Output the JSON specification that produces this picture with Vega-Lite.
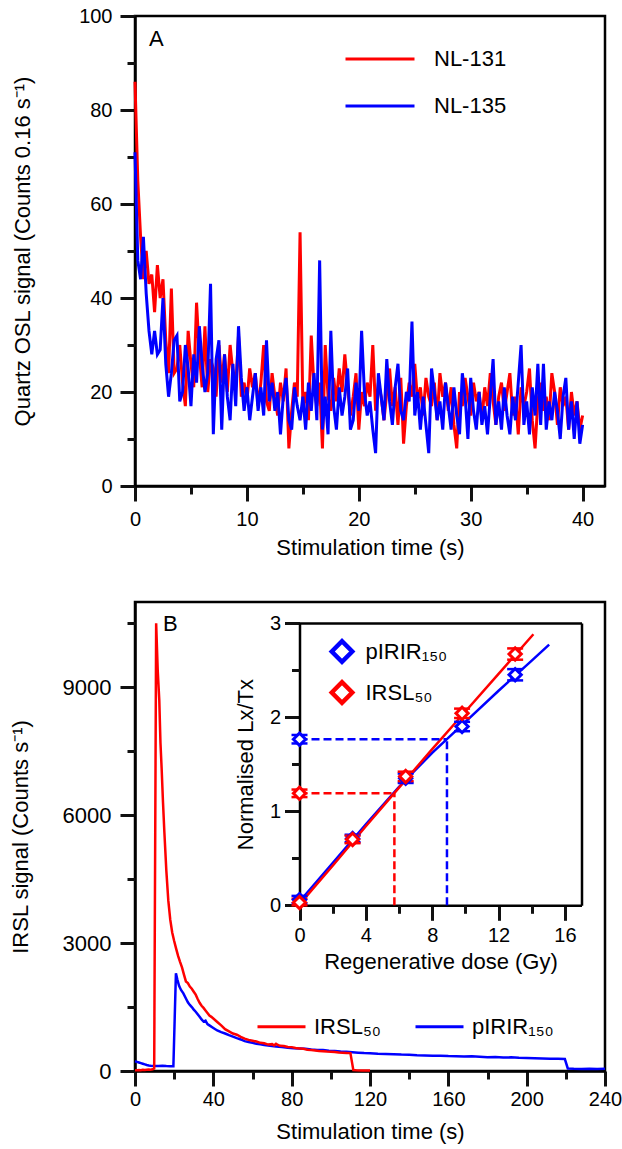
{
  "$schema": "https://vega.github.io/schema/vega-lite/v6.json",
  "padding": {"left": 7, "top": 4, "right": 0, "bottom": 0},
  "background": "white",
  "spacing": 40,
  "config": {
    "font": "Liberation Sans",
    "view": {"stroke": "#000000", "strokeWidth": 2.5},
    "axis": {
      "grid": false, "domainColor": "#000000", "domainWidth": 2.5,
      "ticks": true, "tickColor": "#111111", "tickWidth": 3, "tickSize": 15, "tickOpacity": 1,
      "labelFont": "Liberation Sans", "labelFontSize": 20, "labelColor": "#000000",
      "titleFont": "Liberation Sans", "titleFontSize": 22, "titleFontWeight": "normal", "titleColor": "#000000",
      "labelFlush": false, "labelOverlap": false, "labelPadding": 8
    },
    "legend": {"labelFont": "Liberation Sans", "labelFontSize": 22, "labelColor": "#000000", "labelLimit": 400, "padding": 0}
  },
  "datasets": {
    "osl": [
      {"t":0,"NL-131":86,"NL-135":71},{"t":0.25,"NL-131":65,"NL-135":48},{"t":0.5,"NL-131":53,"NL-135":44},{"t":0.75,"NL-131":44,"NL-135":53},
      {"t":1,"NL-131":50,"NL-135":41},{"t":1.25,"NL-131":43,"NL-135":33},{"t":1.5,"NL-131":45,"NL-135":28},{"t":1.75,"NL-131":37,"NL-135":33},
      {"t":2,"NL-131":47,"NL-135":28},{"t":2.25,"NL-131":40,"NL-135":29},{"t":2.5,"NL-131":44,"NL-135":40},{"t":2.75,"NL-131":31,"NL-135":26},
      {"t":3,"NL-131":24,"NL-135":19},{"t":3.25,"NL-131":42,"NL-135":24},{"t":3.5,"NL-131":24,"NL-135":31},{"t":3.75,"NL-131":25,"NL-135":32},
      {"t":4,"NL-131":30,"NL-135":18},{"t":4.25,"NL-131":22,"NL-135":20},{"t":4.5,"NL-131":17,"NL-135":30},{"t":4.75,"NL-131":33,"NL-135":25},
      {"t":5,"NL-131":26,"NL-135":17},{"t":5.25,"NL-131":21,"NL-135":28},{"t":5.5,"NL-131":39,"NL-135":22},{"t":5.75,"NL-131":28,"NL-135":34},
      {"t":6,"NL-131":21,"NL-135":26},{"t":6.25,"NL-131":34,"NL-135":20},{"t":6.5,"NL-131":20,"NL-135":24},{"t":6.75,"NL-131":27,"NL-135":43},
      {"t":7,"NL-131":25,"NL-135":11},{"t":7.25,"NL-131":19,"NL-135":27},{"t":7.5,"NL-131":30,"NL-135":31},{"t":7.75,"NL-131":22,"NL-135":12},
      {"t":8,"NL-131":28,"NL-135":28},{"t":8.25,"NL-131":20,"NL-135":19},{"t":8.5,"NL-131":30,"NL-135":14},{"t":8.75,"NL-131":24,"NL-135":26},
      {"t":9,"NL-131":21,"NL-135":17},{"t":9.25,"NL-131":32,"NL-135":34},{"t":9.5,"NL-131":19,"NL-135":23},{"t":9.75,"NL-131":22,"NL-135":16},
      {"t":10,"NL-131":18,"NL-135":21},{"t":10.25,"NL-131":25,"NL-135":14},{"t":10.5,"NL-131":21,"NL-135":19},{"t":10.75,"NL-131":24,"NL-135":24},
      {"t":11,"NL-131":17,"NL-135":16},{"t":11.25,"NL-131":22,"NL-135":21},{"t":11.5,"NL-131":30,"NL-135":15},{"t":11.75,"NL-131":18,"NL-135":31},
      {"t":12,"NL-131":16,"NL-135":18},{"t":12.25,"NL-131":24,"NL-135":22},{"t":12.5,"NL-131":19,"NL-135":16},{"t":12.75,"NL-131":15,"NL-135":20},
      {"t":13,"NL-131":22,"NL-135":11},{"t":13.25,"NL-131":18,"NL-135":19},{"t":13.5,"NL-131":25,"NL-135":23},{"t":13.75,"NL-131":8,"NL-135":14},
      {"t":14,"NL-131":16,"NL-135":12},{"t":14.25,"NL-131":22,"NL-135":21},{"t":14.5,"NL-131":19,"NL-135":17},{"t":14.75,"NL-131":54,"NL-135":14},
      {"t":15,"NL-131":17,"NL-135":19},{"t":15.25,"NL-131":20,"NL-135":12},{"t":15.5,"NL-131":14,"NL-135":22},{"t":15.75,"NL-131":32,"NL-135":16},
      {"t":16,"NL-131":21,"NL-135":24},{"t":16.25,"NL-131":17,"NL-135":14},{"t":16.5,"NL-131":22,"NL-135":48},{"t":16.75,"NL-131":8,"NL-135":12},
      {"t":17,"NL-131":30,"NL-135":19},{"t":17.25,"NL-131":19,"NL-135":11},{"t":17.5,"NL-131":16,"NL-135":33},{"t":17.75,"NL-131":23,"NL-135":17},
      {"t":18,"NL-131":18,"NL-135":12},{"t":18.25,"NL-131":25,"NL-135":21},{"t":18.5,"NL-131":20,"NL-135":15},{"t":18.75,"NL-131":28,"NL-135":19},
      {"t":19,"NL-131":21,"NL-135":25},{"t":19.25,"NL-131":15,"NL-135":12},{"t":19.5,"NL-131":19,"NL-135":14},{"t":19.75,"NL-131":24,"NL-135":22},
      {"t":20,"NL-131":12,"NL-135":16},{"t":20.25,"NL-131":20,"NL-135":33},{"t":20.5,"NL-131":17,"NL-135":20},{"t":20.75,"NL-131":22,"NL-135":15},
      {"t":21,"NL-131":19,"NL-135":18},{"t":21.25,"NL-131":30,"NL-135":12},{"t":21.5,"NL-131":16,"NL-135":7},{"t":21.75,"NL-131":22,"NL-135":24},
      {"t":22,"NL-131":19,"NL-135":19},{"t":22.25,"NL-131":14,"NL-135":14},{"t":22.5,"NL-131":20,"NL-135":27},{"t":22.75,"NL-131":25,"NL-135":18},
      {"t":23,"NL-131":17,"NL-135":13},{"t":23.25,"NL-131":21,"NL-135":21},{"t":23.5,"NL-131":13,"NL-135":26},{"t":23.75,"NL-131":23,"NL-135":16},
      {"t":24,"NL-131":9,"NL-135":14},{"t":24.25,"NL-131":17,"NL-135":20},{"t":24.5,"NL-131":22,"NL-135":18},{"t":24.75,"NL-131":19,"NL-135":35},
      {"t":25,"NL-131":26,"NL-135":15},{"t":25.25,"NL-131":18,"NL-135":20},{"t":25.5,"NL-131":21,"NL-135":12},{"t":25.75,"NL-131":15,"NL-135":19},
      {"t":26,"NL-131":23,"NL-135":13},{"t":26.25,"NL-131":19,"NL-135":7},{"t":26.5,"NL-131":17,"NL-135":25},{"t":26.75,"NL-131":22,"NL-135":20},
      {"t":27,"NL-131":14,"NL-135":14},{"t":27.25,"NL-131":24,"NL-135":18},{"t":27.5,"NL-131":19,"NL-135":12},{"t":27.75,"NL-131":22,"NL-135":22},
      {"t":28,"NL-131":16,"NL-135":17},{"t":28.25,"NL-131":21,"NL-135":12},{"t":28.5,"NL-131":13,"NL-135":21},{"t":28.75,"NL-131":8,"NL-135":15},
      {"t":29,"NL-131":20,"NL-135":11},{"t":29.25,"NL-131":17,"NL-135":24},{"t":29.5,"NL-131":23,"NL-135":19},{"t":29.75,"NL-131":19,"NL-135":10},
      {"t":30,"NL-131":15,"NL-135":23},{"t":30.25,"NL-131":22,"NL-135":16},{"t":30.5,"NL-131":18,"NL-135":12},{"t":30.75,"NL-131":20,"NL-135":20},
      {"t":31,"NL-131":14,"NL-135":13},{"t":31.25,"NL-131":21,"NL-135":17},{"t":31.5,"NL-131":17,"NL-135":11},{"t":31.75,"NL-131":24,"NL-135":19},
      {"t":32,"NL-131":18,"NL-135":27},{"t":32.25,"NL-131":13,"NL-135":13},{"t":32.5,"NL-131":19,"NL-135":18},{"t":32.75,"NL-131":22,"NL-135":12},
      {"t":33,"NL-131":16,"NL-135":21},{"t":33.25,"NL-131":20,"NL-135":15},{"t":33.5,"NL-131":24,"NL-135":11},{"t":33.75,"NL-131":15,"NL-135":19},
      {"t":34,"NL-131":19,"NL-135":14},{"t":34.25,"NL-131":11,"NL-135":22},{"t":34.5,"NL-131":21,"NL-135":30},{"t":34.75,"NL-131":17,"NL-135":13},
      {"t":35,"NL-131":20,"NL-135":18},{"t":35.25,"NL-131":25,"NL-135":11},{"t":35.5,"NL-131":14,"NL-135":21},{"t":35.75,"NL-131":8,"NL-135":15},
      {"t":36,"NL-131":18,"NL-135":26},{"t":36.25,"NL-131":22,"NL-135":13},{"t":36.5,"NL-131":16,"NL-135":26},{"t":36.75,"NL-131":19,"NL-135":12},
      {"t":37,"NL-131":14,"NL-135":18},{"t":37.25,"NL-131":24,"NL-135":14},{"t":37.5,"NL-131":20,"NL-135":20},{"t":37.75,"NL-131":13,"NL-135":16},
      {"t":38,"NL-131":21,"NL-135":10},{"t":38.25,"NL-131":17,"NL-135":19},{"t":38.5,"NL-131":19,"NL-135":23},{"t":38.75,"NL-131":12,"NL-135":12},
      {"t":39,"NL-131":20,"NL-135":18},{"t":39.25,"NL-131":15,"NL-135":10},{"t":39.5,"NL-131":18,"NL-135":18},{"t":39.75,"NL-131":12,"NL-135":9},
      {"t":40,"NL-131":15,"NL-135":13}
    ],
    "irsl": [
      {"s":"pIRIR₁₅₀","t":0,"c":230},{"s":"pIRIR₁₅₀","t":1,"c":215},{"s":"pIRIR₁₅₀","t":2,"c":200},{"s":"pIRIR₁₅₀","t":3,"c":185},
      {"s":"pIRIR₁₅₀","t":4,"c":170},{"s":"pIRIR₁₅₀","t":5,"c":155},{"s":"pIRIR₁₅₀","t":6,"c":140},{"s":"pIRIR₁₅₀","t":7,"c":130},
      {"s":"pIRIR₁₅₀","t":8,"c":125},{"s":"pIRIR₁₅₀","t":10,"c":120},{"s":"pIRIR₁₅₀","t":12,"c":118},{"s":"pIRIR₁₅₀","t":14,"c":122},
      {"s":"pIRIR₁₅₀","t":16,"c":115},{"s":"pIRIR₁₅₀","t":18,"c":112},{"s":"pIRIR₁₅₀","t":19.6,"c":110},{"s":"pIRIR₁₅₀","t":20.9,"c":2290},
      {"s":"pIRIR₁₅₀","t":21.6,"c":2150},{"s":"pIRIR₁₅₀","t":22.5,"c":2000},{"s":"pIRIR₁₅₀","t":23.5,"c":1900},{"s":"pIRIR₁₅₀","t":24.7,"c":1820},
      {"s":"pIRIR₁₅₀","t":26,"c":1700},{"s":"pIRIR₁₅₀","t":27,"c":1610},{"s":"pIRIR₁₅₀","t":28,"c":1550},{"s":"pIRIR₁₅₀","t":29,"c":1500},
      {"s":"pIRIR₁₅₀","t":30,"c":1440},{"s":"pIRIR₁₅₀","t":31,"c":1390},{"s":"pIRIR₁₅₀","t":32,"c":1330},{"s":"pIRIR₁₅₀","t":33,"c":1270},
      {"s":"pIRIR₁₅₀","t":34,"c":1210},{"s":"pIRIR₁₅₀","t":35,"c":1160},{"s":"pIRIR₁₅₀","t":36,"c":1180},{"s":"pIRIR₁₅₀","t":37,"c":1100},
      {"s":"pIRIR₁₅₀","t":38,"c":1070},{"s":"pIRIR₁₅₀","t":40,"c":1010},{"s":"pIRIR₁₅₀","t":42,"c":950},{"s":"pIRIR₁₅₀","t":44,"c":910},
      {"s":"pIRIR₁₅₀","t":46,"c":880},{"s":"pIRIR₁₅₀","t":48,"c":840},{"s":"pIRIR₁₅₀","t":50,"c":805},{"s":"pIRIR₁₅₀","t":52,"c":770},
      {"s":"pIRIR₁₅₀","t":54,"c":740},{"s":"pIRIR₁₅₀","t":56,"c":700},{"s":"pIRIR₁₅₀","t":58,"c":680},{"s":"pIRIR₁₅₀","t":60,"c":660},
      {"s":"pIRIR₁₅₀","t":62,"c":640},{"s":"pIRIR₁₅₀","t":64,"c":625},{"s":"pIRIR₁₅₀","t":66,"c":610},{"s":"pIRIR₁₅₀","t":68,"c":600},
      {"s":"pIRIR₁₅₀","t":70,"c":585},{"s":"pIRIR₁₅₀","t":72,"c":575},{"s":"pIRIR₁₅₀","t":75,"c":560},{"s":"pIRIR₁₅₀","t":78,"c":545},
      {"s":"pIRIR₁₅₀","t":81,"c":535},{"s":"pIRIR₁₅₀","t":84,"c":530},{"s":"pIRIR₁₅₀","t":87,"c":520},{"s":"pIRIR₁₅₀","t":90,"c":505},
      {"s":"pIRIR₁₅₀","t":93,"c":495},{"s":"pIRIR₁₅₀","t":96,"c":490},{"s":"pIRIR₁₅₀","t":99,"c":475},{"s":"pIRIR₁₅₀","t":102,"c":470},
      {"s":"pIRIR₁₅₀","t":105,"c":455},{"s":"pIRIR₁₅₀","t":108,"c":450},{"s":"pIRIR₁₅₀","t":111,"c":440},{"s":"pIRIR₁₅₀","t":114,"c":430},
      {"s":"pIRIR₁₅₀","t":117,"c":420},{"s":"pIRIR₁₅₀","t":120,"c":415},{"s":"pIRIR₁₅₀","t":124,"c":405},{"s":"pIRIR₁₅₀","t":128,"c":400},
      {"s":"pIRIR₁₅₀","t":132,"c":395},{"s":"pIRIR₁₅₀","t":136,"c":385},{"s":"pIRIR₁₅₀","t":140,"c":380},{"s":"pIRIR₁₅₀","t":144,"c":370},
      {"s":"pIRIR₁₅₀","t":148,"c":365},{"s":"pIRIR₁₅₀","t":152,"c":355},{"s":"pIRIR₁₅₀","t":156,"c":360},{"s":"pIRIR₁₅₀","t":160,"c":350},
      {"s":"pIRIR₁₅₀","t":164,"c":345},{"s":"pIRIR₁₅₀","t":168,"c":340},{"s":"pIRIR₁₅₀","t":172,"c":345},{"s":"pIRIR₁₅₀","t":176,"c":335},
      {"s":"pIRIR₁₅₀","t":180,"c":325},{"s":"pIRIR₁₅₀","t":184,"c":330},{"s":"pIRIR₁₅₀","t":188,"c":315},{"s":"pIRIR₁₅₀","t":192,"c":320},
      {"s":"pIRIR₁₅₀","t":196,"c":310},{"s":"pIRIR₁₅₀","t":200,"c":305},{"s":"pIRIR₁₅₀","t":204,"c":300},{"s":"pIRIR₁₅₀","t":208,"c":295},
      {"s":"pIRIR₁₅₀","t":212,"c":290},{"s":"pIRIR₁₅₀","t":216,"c":285},{"s":"pIRIR₁₅₀","t":219.5,"c":280},{"s":"pIRIR₁₅₀","t":221,"c":60},
      {"s":"pIRIR₁₅₀","t":224,"c":50},{"s":"pIRIR₁₅₀","t":228,"c":45},{"s":"pIRIR₁₅₀","t":232,"c":50},{"s":"pIRIR₁₅₀","t":236,"c":45},
      {"s":"pIRIR₁₅₀","t":240,"c":50},
      {"s":"IRSL₅₀","t":0,"c":20},{"s":"IRSL₅₀","t":1,"c":15},{"s":"IRSL₅₀","t":2,"c":25},{"s":"IRSL₅₀","t":3,"c":20},
      {"s":"IRSL₅₀","t":4,"c":30},{"s":"IRSL₅₀","t":5,"c":25},{"s":"IRSL₅₀","t":6,"c":30},{"s":"IRSL₅₀","t":7,"c":35},
      {"s":"IRSL₅₀","t":8,"c":30},{"s":"IRSL₅₀","t":9,"c":40},{"s":"IRSL₅₀","t":9.8,"c":60},{"s":"IRSL₅₀","t":10.8,"c":10500},
      {"s":"IRSL₅₀","t":11.6,"c":9400},{"s":"IRSL₅₀","t":12.4,"c":8700},{"s":"IRSL₅₀","t":13,"c":7700},{"s":"IRSL₅₀","t":13.6,"c":7100},
      {"s":"IRSL₅₀","t":14.3,"c":6300},{"s":"IRSL₅₀","t":15,"c":5600},{"s":"IRSL₅₀","t":16,"c":4700},{"s":"IRSL₅₀","t":17,"c":4000},
      {"s":"IRSL₅₀","t":18,"c":3550},{"s":"IRSL₅₀","t":19,"c":3250},{"s":"IRSL₅₀","t":20,"c":3050},{"s":"IRSL₅₀","t":21,"c":2870},
      {"s":"IRSL₅₀","t":22,"c":2700},{"s":"IRSL₅₀","t":23,"c":2560},{"s":"IRSL₅₀","t":24,"c":2430},{"s":"IRSL₅₀","t":25,"c":2260},
      {"s":"IRSL₅₀","t":26,"c":2100},{"s":"IRSL₅₀","t":27,"c":2060},{"s":"IRSL₅₀","t":28,"c":1980},{"s":"IRSL₅₀","t":29,"c":1930},
      {"s":"IRSL₅₀","t":30,"c":1860},{"s":"IRSL₅₀","t":31,"c":1790},{"s":"IRSL₅₀","t":32,"c":1690},{"s":"IRSL₅₀","t":33,"c":1600},
      {"s":"IRSL₅₀","t":34,"c":1530},{"s":"IRSL₅₀","t":35,"c":1480},{"s":"IRSL₅₀","t":36,"c":1420},{"s":"IRSL₅₀","t":37,"c":1360},
      {"s":"IRSL₅₀","t":38,"c":1300},{"s":"IRSL₅₀","t":39,"c":1270},{"s":"IRSL₅₀","t":40,"c":1230},{"s":"IRSL₅₀","t":42,"c":1150},
      {"s":"IRSL₅₀","t":44,"c":1070},{"s":"IRSL₅₀","t":46,"c":980},{"s":"IRSL₅₀","t":48,"c":930},{"s":"IRSL₅₀","t":50,"c":880},
      {"s":"IRSL₅₀","t":52,"c":850},{"s":"IRSL₅₀","t":54,"c":800},{"s":"IRSL₅₀","t":56,"c":760},{"s":"IRSL₅₀","t":58,"c":730},
      {"s":"IRSL₅₀","t":60,"c":710},{"s":"IRSL₅₀","t":62,"c":690},{"s":"IRSL₅₀","t":64,"c":660},{"s":"IRSL₅₀","t":66,"c":650},
      {"s":"IRSL₅₀","t":68,"c":620},{"s":"IRSL₅₀","t":70,"c":630},{"s":"IRSL₅₀","t":71,"c":600},{"s":"IRSL₅₀","t":72,"c":640},
      {"s":"IRSL₅₀","t":73,"c":610},{"s":"IRSL₅₀","t":74,"c":590},{"s":"IRSL₅₀","t":76,"c":585},{"s":"IRSL₅₀","t":78,"c":565},
      {"s":"IRSL₅₀","t":80,"c":560},{"s":"IRSL₅₀","t":82,"c":540},{"s":"IRSL₅₀","t":84,"c":530},{"s":"IRSL₅₀","t":86,"c":520},
      {"s":"IRSL₅₀","t":88,"c":500},{"s":"IRSL₅₀","t":90,"c":490},{"s":"IRSL₅₀","t":92,"c":480},{"s":"IRSL₅₀","t":94,"c":470},
      {"s":"IRSL₅₀","t":96,"c":465},{"s":"IRSL₅₀","t":98,"c":455},{"s":"IRSL₅₀","t":100,"c":450},{"s":"IRSL₅₀","t":102,"c":445},
      {"s":"IRSL₅₀","t":104,"c":435},{"s":"IRSL₅₀","t":106,"c":430},{"s":"IRSL₅₀","t":108,"c":425},{"s":"IRSL₅₀","t":110,"c":420},
      {"s":"IRSL₅₀","t":111.5,"c":20},{"s":"IRSL₅₀","t":113,"c":15},{"s":"IRSL₅₀","t":116,"c":10},{"s":"IRSL₅₀","t":120,"c":10}
    ],
    "fit": [
      {"s":"pIRIR₁₅₀","dose":0,"val":0.04},{"s":"pIRIR₁₅₀","dose":2,"val":0.45},{"s":"pIRIR₁₅₀","dose":4,"val":0.86},
      {"s":"pIRIR₁₅₀","dose":6,"val":1.26},{"s":"pIRIR₁₅₀","dose":8,"val":1.62},{"s":"pIRIR₁₅₀","dose":10,"val":1.95},
      {"s":"pIRIR₁₅₀","dose":12,"val":2.28},{"s":"pIRIR₁₅₀","dose":14,"val":2.6},{"s":"pIRIR₁₅₀","dose":15.05,"val":2.77},
      {"s":"IRSL₅₀","dose":0,"val":0.01},{"s":"IRSL₅₀","dose":2,"val":0.42},{"s":"IRSL₅₀","dose":4,"val":0.84},
      {"s":"IRSL₅₀","dose":6,"val":1.25},{"s":"IRSL₅₀","dose":8,"val":1.66},{"s":"IRSL₅₀","dose":10,"val":2.06},
      {"s":"IRSL₅₀","dose":12,"val":2.46},{"s":"IRSL₅₀","dose":14.1,"val":2.88}
    ],
    "dash": [
      {"s":"pIRIR₁₅₀","x1":0,"x2":8.89,"y1":1.765,"y2":1.765},
      {"s":"pIRIR₁₅₀","x1":8.89,"x2":8.89,"y1":0,"y2":1.765},
      {"s":"IRSL₅₀","x1":0,"x2":5.72,"y1":1.19,"y2":1.19},
      {"s":"IRSL₅₀","x1":5.72,"x2":5.72,"y1":0,"y2":1.19}
    ],
    "pts": [
      {"s":"pIRIR₁₅₀","dose":0,"val":0.06,"lo":0.02,"hi":0.1},
      {"s":"pIRIR₁₅₀","dose":3.2,"val":0.71,"lo":0.67,"hi":0.75},
      {"s":"pIRIR₁₅₀","dose":6.4,"val":1.35,"lo":1.3,"hi":1.4},
      {"s":"pIRIR₁₅₀","dose":9.8,"val":1.9,"lo":1.85,"hi":1.95},
      {"s":"pIRIR₁₅₀","dose":13,"val":2.45,"lo":2.39,"hi":2.51},
      {"s":"pIRIR₁₅₀","dose":0,"val":1.765,"lo":1.72,"hi":1.81},
      {"s":"IRSL₅₀","dose":0,"val":0.03,"lo":0,"hi":0.07},
      {"s":"IRSL₅₀","dose":3.2,"val":0.7,"lo":0.66,"hi":0.74},
      {"s":"IRSL₅₀","dose":6.4,"val":1.37,"lo":1.32,"hi":1.42},
      {"s":"IRSL₅₀","dose":9.8,"val":2.04,"lo":1.99,"hi":2.09},
      {"s":"IRSL₅₀","dose":13,"val":2.67,"lo":2.61,"hi":2.73},
      {"s":"IRSL₅₀","dose":0,"val":1.19,"lo":1.15,"hi":1.23}
    ]
  },
  "vconcat": [
    {
      "width": 470,
      "height": 470,
      "layer": [
        {
          "data": {"name": "osl"},
          "transform": [{"fold": ["NL-131", "NL-135"], "as": ["sample", "v"]}],
          "mark": {"type": "line", "strokeWidth": 3},
          "encoding": {
            "x": {"field": "t", "type": "quantitative", "scale": {"domain": [0, 42], "nice": false},
              "axis": {"orient": "bottom", "values": [0, 10, 20, 30, 40], "title": "Stimulation time (s)", "labelPadding": 8, "titlePadding": 8,
                "ticks": true, "tickSize": 15, "tickColor": "#111111", "tickWidth": 3, "domainColor": "#000000", "domainWidth": 2.5}},
            "y": {"field": "v", "type": "quantitative", "scale": {"domain": [0, 100], "nice": false},
              "axis": {"orient": "left", "values": [0, 20, 40, 60, 80, 100], "title": "Quartz OSL signal (Counts 0.16 s⁻¹)", "titlePadding": 44,
                "ticks": true, "tickSize": 15, "tickColor": "#111111", "tickWidth": 3, "domainColor": "#000000", "domainWidth": 2.5}},
            "color": {"field": "sample", "type": "nominal",
              "scale": {"domain": ["NL-131", "NL-135"], "range": ["#ff0000", "#0000ff"]},
              "legend": {"orient": "none", "legendX": 209, "legendY": 7, "direction": "vertical", "title": null,
                "symbolType": "stroke", "symbolSize": 4761, "symbolStrokeWidth": 3, "labelOffset": 18, "rowPadding": -28}}
          }
        },
        {
          "data": {"name": "osl"},
          "transform": [{"fold": ["NL-131", "NL-135"], "as": ["sample", "v"]}],
          "mark": {"type": "point", "opacity": 0},
          "encoding": {
            "x": {"field": "t", "type": "quantitative", "scale": {"domain": [0, 42], "nice": false},
              "axis": {"orient": "bottom", "values": [5, 15, 25, 35], "labels": false, "domain": false, "title": null,
                "ticks": true, "tickSize": 8, "tickColor": "#111111", "tickWidth": 3}},
            "y": {"field": "v", "type": "quantitative", "scale": {"domain": [0, 100], "nice": false},
              "axis": {"orient": "left", "values": [10, 30, 50, 70, 90], "labels": false, "domain": false, "title": null,
                "ticks": true, "tickSize": 8, "tickColor": "#111111", "tickWidth": 3}}
          }
        },
        {
          "data": {"values": [{}]},
          "mark": {"type": "text", "fontSize": 22, "align": "left", "baseline": "alphabetic", "font": "Liberation Sans", "color": "#000000"},
          "encoding": {
            "x": {"datum": 1.25, "type": "quantitative", "axis": null},
            "y": {"datum": 93.6, "type": "quantitative", "axis": null},
            "text": {"value": "A"}
          }
        }
      ],
      "resolve": {"axis": {"x": "independent", "y": "independent"}}
    },
    {
      "width": 470,
      "height": 469,
      "layer": [
        {
          "data": {"name": "irsl"},
          "mark": {"type": "line", "strokeWidth": 2.5},
          "encoding": {
            "x": {"field": "t", "type": "quantitative", "scale": {"domain": [0, 240], "nice": false},
              "axis": {"orient": "bottom", "values": [0, 40, 80, 120, 160, 200, 240], "title": "Stimulation time (s)", "labelPadding": 3, "titlePadding": 12,
                "ticks": true, "tickSize": 15, "tickColor": "#111111", "tickWidth": 3, "domainColor": "#000000", "domainWidth": 2.5}},
            "y": {"field": "c", "type": "quantitative", "scale": {"domain": [0, 11000], "nice": false},
              "axis": {"orient": "left", "values": [0, 3000, 6000, 9000], "format": "d", "title": "IRSL signal (Counts s⁻¹)", "labelFontSize": 22, "labelPadding": 9, "titlePadding": 30,
                "ticks": true, "tickSize": 15, "tickColor": "#111111", "tickWidth": 3, "domainColor": "#000000", "domainWidth": 2.5}},
            "color": {"field": "s", "type": "nominal",
              "scale": {"domain": ["IRSL₅₀", "pIRIR₁₅₀"], "range": ["#ff0000", "#0000ff"]},
              "legend": {"orient": "none", "legendX": 121, "legendY": 399, "direction": "horizontal", "title": null,
                "symbolType": "stroke", "symbolSize": 2304, "symbolStrokeWidth": 3, "labelOffset": 7, "columnPadding": 28}}
          }
        },
        {
          "data": {"name": "irsl"},
          "mark": {"type": "point", "opacity": 0},
          "encoding": {
            "x": {"field": "t", "type": "quantitative", "scale": {"domain": [0, 240], "nice": false},
              "axis": {"orient": "bottom", "values": [20, 60, 100, 140, 180, 220], "labels": false, "domain": false, "title": null,
                "ticks": true, "tickSize": 8, "tickColor": "#111111", "tickWidth": 3}},
            "y": {"field": "c", "type": "quantitative", "scale": {"domain": [0, 11000], "nice": false},
              "axis": {"orient": "left", "values": [1500, 4500, 7500, 10500], "labels": false, "domain": false, "title": null,
                "ticks": true, "tickSize": 8, "tickColor": "#111111", "tickWidth": 3}}
          }
        },
        {
          "data": {"values": [{}]},
          "mark": {"type": "text", "fontSize": 22, "align": "left", "baseline": "alphabetic", "font": "Liberation Sans", "color": "#000000"},
          "encoding": {
            "x": {"datum": 14.3, "type": "quantitative", "scale": {"domain": [0, 240], "nice": false}, "axis": null},
            "y": {"datum": 10313, "type": "quantitative", "scale": {"domain": [0, 11000], "nice": false}, "axis": null},
            "text": {"value": "B"}
          }
        },
        {
          "data": {"name": "fit"},
          "mark": {"type": "line", "strokeWidth": 2.5},
          "encoding": {
            "x": {"field": "dose", "type": "quantitative", "scale": {"domain": [0, 17], "range": [164.5, 446.5], "nice": false},
              "axis": {"orient": "bottom", "offset": -165.7, "values": [0, 4, 8, 12, 16], "title": "Regenerative dose (Gy)", "labelPadding": 5, "titlePadding": 6,
                "ticks": true, "tickSize": 15, "tickColor": "#111111", "tickWidth": 3, "domainColor": "#000000", "domainWidth": 2.5}},
            "y": {"field": "val", "type": "quantitative", "scale": {"domain": [0, 3], "range": [303.3, 21], "nice": false},
              "axis": {"orient": "left", "offset": -164.5, "values": [0, 1, 2, 3], "title": "Normalised Lx/Tx", "labelPadding": 4, "titlePadding": 12,
                "ticks": true, "tickSize": 15, "tickColor": "#111111", "tickWidth": 3, "domainColor": "#000000", "domainWidth": 2.5}},
            "color": {"field": "s", "type": "nominal", "scale": {"domain": ["IRSL₅₀", "pIRIR₁₅₀"], "range": ["#ff0000", "#0000ff"]}, "legend": null}
          }
        },
        {
          "data": {"name": "fit"},
          "mark": {"type": "point", "opacity": 0},
          "encoding": {
            "x": {"field": "dose", "type": "quantitative", "scale": {"domain": [0, 17], "range": [164.5, 446.5], "nice": false},
              "axis": {"orient": "bottom", "offset": -165.7, "values": [2, 6, 10, 14], "labels": false, "domain": false, "title": null,
                "ticks": true, "tickSize": 8, "tickColor": "#111111", "tickWidth": 3}},
            "y": {"field": "val", "type": "quantitative", "scale": {"domain": [0, 3], "range": [303.3, 21], "nice": false},
              "axis": {"orient": "left", "offset": -164.5, "values": [0.5, 1.5, 2.5], "labels": false, "domain": false, "title": null,
                "ticks": true, "tickSize": 8, "tickColor": "#111111", "tickWidth": 3}}
          }
        },
        {
          "data": {"name": "fit"},
          "mark": {"type": "point", "opacity": 0},
          "encoding": {
            "x": {"field": "dose", "type": "quantitative", "scale": {"domain": [0, 17], "range": [164.5, 446.5], "nice": false},
              "axis": {"orient": "top", "offset": -21, "ticks": false, "labels": false, "title": null, "domainColor": "#000000", "domainWidth": 2.5}},
            "y": {"field": "val", "type": "quantitative", "scale": {"domain": [0, 3], "range": [303.3, 21], "nice": false},
              "axis": {"orient": "right", "offset": -23.5, "ticks": false, "labels": false, "title": null, "domainColor": "#000000", "domainWidth": 2.5}}
          }
        },
        {
          "data": {"name": "dash"},
          "mark": {"type": "rule", "strokeWidth": 2.5, "strokeDash": [8, 4]},
          "encoding": {
            "x": {"field": "x1", "type": "quantitative", "scale": {"domain": [0, 17], "range": [164.5, 446.5], "nice": false}, "axis": null},
            "x2": {"field": "x2"},
            "y": {"field": "y1", "type": "quantitative", "scale": {"domain": [0, 3], "range": [303.3, 21], "nice": false}, "axis": null},
            "y2": {"field": "y2"},
            "color": {"field": "s", "type": "nominal", "scale": {"domain": ["IRSL₅₀", "pIRIR₁₅₀"], "range": ["#ff0000", "#0000ff"]}, "legend": null}
          }
        },
        {
          "data": {"name": "pts"},
          "mark": {"type": "rule", "strokeWidth": 2.5},
          "encoding": {
            "x": {"field": "dose", "type": "quantitative", "scale": {"domain": [0, 17], "range": [164.5, 446.5], "nice": false}, "axis": null},
            "y": {"field": "lo", "type": "quantitative", "scale": {"domain": [0, 3], "range": [303.3, 21], "nice": false}, "axis": null},
            "y2": {"field": "hi"},
            "color": {"field": "s", "type": "nominal", "scale": {"domain": ["IRSL₅₀", "pIRIR₁₅₀"], "range": ["#ff0000", "#0000ff"]}, "legend": null}
          }
        },
        {
          "data": {"name": "pts"},
          "mark": {"type": "tick", "orient": "horizontal", "size": 16, "thickness": 2.5, "opacity": 1},
          "encoding": {
            "x": {"field": "dose", "type": "quantitative", "scale": {"domain": [0, 17], "range": [164.5, 446.5], "nice": false}, "axis": null},
            "y": {"field": "lo", "type": "quantitative", "scale": {"domain": [0, 3], "range": [303.3, 21], "nice": false}, "axis": null},
            "color": {"field": "s", "type": "nominal", "scale": {"domain": ["IRSL₅₀", "pIRIR₁₅₀"], "range": ["#ff0000", "#0000ff"]}, "legend": null}
          }
        },
        {
          "data": {"name": "pts"},
          "mark": {"type": "tick", "orient": "horizontal", "size": 16, "thickness": 2.5, "opacity": 1},
          "encoding": {
            "x": {"field": "dose", "type": "quantitative", "scale": {"domain": [0, 17], "range": [164.5, 446.5], "nice": false}, "axis": null},
            "y": {"field": "hi", "type": "quantitative", "scale": {"domain": [0, 3], "range": [303.3, 21], "nice": false}, "axis": null},
            "color": {"field": "s", "type": "nominal", "scale": {"domain": ["IRSL₅₀", "pIRIR₁₅₀"], "range": ["#ff0000", "#0000ff"]}, "legend": null}
          }
        },
        {
          "data": {"name": "pts"},
          "mark": {"type": "point", "shape": "diamond", "filled": true, "fill": "white", "strokeWidth": 3, "size": 150, "opacity": 1},
          "encoding": {
            "x": {"field": "dose", "type": "quantitative", "scale": {"domain": [0, 17], "range": [164.5, 446.5], "nice": false}, "axis": null},
            "y": {"field": "val", "type": "quantitative", "scale": {"domain": [0, 3], "range": [303.3, 21], "nice": false}, "axis": null},
            "stroke": {"field": "s", "type": "nominal",
              "scale": {"domain": ["pIRIR₁₅₀", "IRSL₅₀"], "range": ["#0000ff", "#ff0000"]},
              "legend": {"orient": "none", "legendX": 194.5, "legendY": 37, "direction": "vertical", "title": null,
                "symbolType": "diamond", "symbolSize": 420, "symbolStrokeWidth": 4.5, "symbolFillColor": "white", "labelOffset": 11, "rowPadding": 2}}
          }
        }
      ],
      "resolve": {
        "scale": {"x": "independent", "y": "independent", "color": "independent", "stroke": "independent"},
        "axis": {"x": "independent", "y": "independent"},
        "legend": {"color": "independent", "stroke": "independent"}
      }
    }
  ]
}
